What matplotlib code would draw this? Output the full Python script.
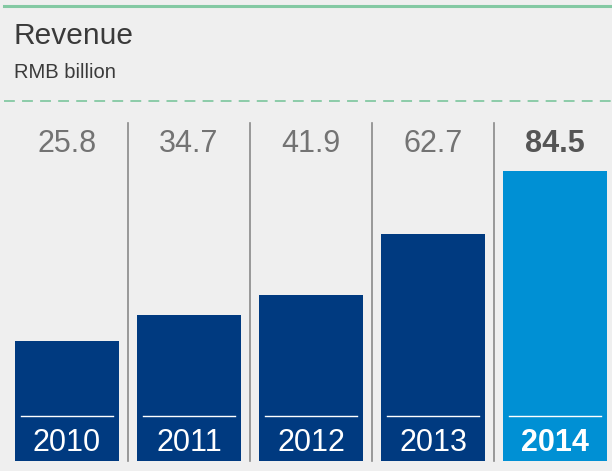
import matplotlib.pyplot as plt
from matplotlib.lines import Line2D

years = ["2010", "2011", "2012", "2013", "2014"]
revenue = [25.8, 34.7, 41.9, 62.7, 84.5]
value_labels = ["25.8", "34.7", "41.9", "62.7", "84.5"]

W, H = 612, 471
BG = "#efefef"
NAVY = "#003a80"
BLUE = "#0090d4"
GREEN = "#84c9a3"
FONT = "Liberation Sans"

# label strip hanging below the zero line (data units)
strip = 15.6

fig = plt.figure(figsize=(W / 100, H / 100), dpi=100, facecolor=BG)
ax = fig.add_axes([0, 0, 1, 1])
ax.set_facecolor(BG)
ax.set_xlim(-0.549, 4.467)
ax.set_ylim(-19.0, 143.6)
ax.axis("off")

x = list(range(len(years)))
colors = [NAVY] * (len(years) - 1) + [BLUE]
ax.bar(x, [v + strip for v in revenue], bottom=-strip, width=0.852,
       color=colors, linewidth=0, zorder=2)

for i, (yr, lab) in enumerate(zip(years, value_labels)):
    last = i == len(years) - 1
    weight = "bold" if last else "normal"
    ax.text(i, 94.0, lab, ha="center", va="center", fontsize=22,
            color="#555555" if last else "#737373", fontweight=weight,
            family=FONT)
    ax.text(i, -9.5, yr, ha="center", va="center", fontsize=22,
            color="white", fontweight=weight, family=FONT, zorder=3)
    # thin white rule above the year
    ax.plot([i - 0.377, i + 0.377], [0, 0], color="white", lw=1.0, zorder=3)
    if i > 0:
        ax.plot([i - 0.5, i - 0.5], [-strip, 101.2], color="#8a8a8a", lw=1.2,
                zorder=1)

# header
fig.text(14 / W, 1 - 36 / H, "Revenue", fontsize=21.5, color="#3a3a3a",
         va="center", ha="left", family=FONT)
fig.text(14 / W, 1 - 72 / H, "RMB billion", fontsize=14.5, color="#3a3a3a",
         va="center", ha="left", family=FONT)
fig.add_artist(Line2D([4 / W, 1], [1 - 5.5 / H, 1 - 5.5 / H], color=GREEN,
                      lw=2.2, transform=fig.transFigure))
fig.add_artist(Line2D([4 / W, 1], [1 - 100.5 / H, 1 - 100.5 / H], color=GREEN,
                      lw=1.3, ls=(0, (6, 4)), transform=fig.transFigure))

fig.savefig("out.png", dpi=100, facecolor=BG)
